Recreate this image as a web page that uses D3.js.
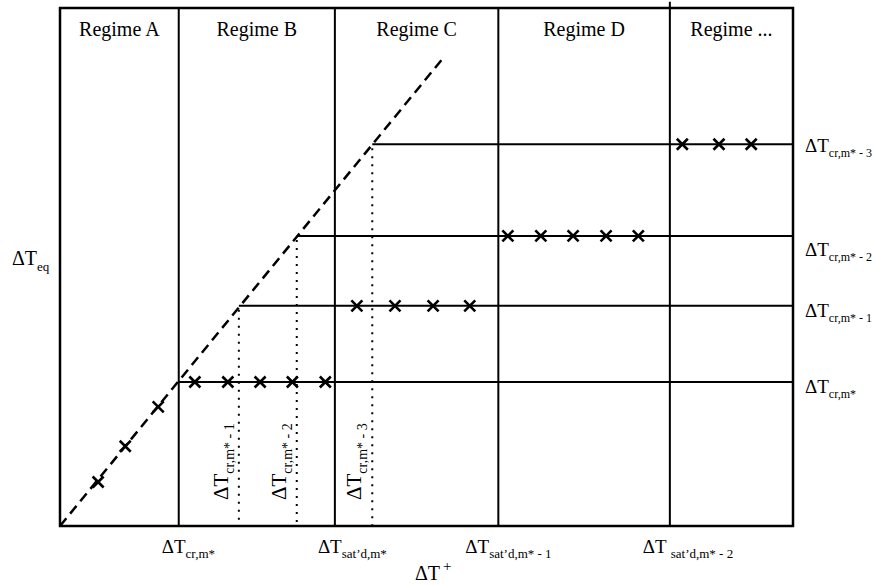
<!DOCTYPE html>
<html>
<head>
<meta charset="utf-8">
<script src="https://cdn.jsdelivr.net/npm/d3@7"></script>
<style>
  body { margin: 0; background: #fff; }
</style>
</head>
<body>
<div id="root"></div>
<script>
// regimes along dT+ (data units 0..100)
const regimes = ["Regime A", "Regime B", "Regime C", "Regime D", "Regime ..."];
const regimeEdges = [0, 16.2, 37.5, 59.8, 83.2, 100];

// critical temperature levels, m*, m*-1, m*-2, m*-3
const levelSubs = ["cr,m*", "cr,m* - 1", "cr,m* - 2", "cr,m* - 3"];
const levels = [27.8, 42.5, 56.0, 73.7];
const satX = [16.2, 24.4, 32.3, 42.6];

// dashed equilibrium line
const diagonal = [[0, 0], [52.3, 90.4]];

// crosses per regime
const crossesA = [[5.2, 8.5], [8.9, 15.4], [13.4, 23.0]];
const crossesB = [18.4, 22.9, 27.3, 31.7, 36.2];
const crossesC = [40.5, 45.7, 50.9, 55.9];
const crossesD = [61.1, 65.6, 70.0, 74.5, 78.9];
const crossesE = [84.9, 89.9, 94.3];

// labels under the x axis
const xTickSubs = ["cr,m*", "sat\u2019d,m*", "sat\u2019d,m* - 1", "sat\u2019d,m* - 2"];
const xTickAt = [16.2, 37.5, 59.8, 83.2];

const FONT = "'Liberation Serif'";

const width = 876, height = 586;
const margin = {top: 8, right: 83, bottom: 60, left: 60};

const svg = d3.select("#root").append("svg")
    .attr("width", width)
    .attr("height", height);

const x = d3.scaleLinear().domain([0, 100]).range([margin.left, width - margin.right]);
const y = d3.scaleLinear().domain([0, 100]).range([height - margin.bottom, margin.top]);

const plot = svg.append("g").attr("class", "plot");

// regime dividers (the one before "Regime ..." pokes above the frame)
plot.selectAll("line.divider")
    .data(regimeEdges.slice(1, -1))
    .enter().append("line")
    .attr("class", "divider")
    .attr("x1", d => x(d)).attr("x2", d => x(d))
    .attr("y1", y(0))
    .attr("y2", (d, i) => i === 3 ? y(101.2) : y(100))
    .attr("stroke", "#000").attr("stroke-width", 2);

// frame
plot.append("rect")
    .attr("x", x(0)).attr("y", y(100))
    .attr("width", x(100) - x(0)).attr("height", y(0) - y(100))
    .attr("fill", "none").attr("stroke", "#000").attr("stroke-width", 2.5);

// level lines
plot.selectAll("line.level")
    .data(levels)
    .enter().append("line")
    .attr("class", "level")
    .attr("x1", (d, i) => x(satX[i])).attr("x2", x(100))
    .attr("y1", d => y(d)).attr("y2", d => y(d))
    .attr("stroke", "#000").attr("stroke-width", 2);

// dotted drops from saturation points
plot.selectAll("line.drop")
    .data(levels.slice(1))
    .enter().append("line")
    .attr("class", "drop")
    .attr("x1", (d, i) => x(satX[i + 1])).attr("x2", (d, i) => x(satX[i + 1]))
    .attr("y1", d => y(d) + 4).attr("y2", y(0))
    .attr("stroke", "#000").attr("stroke-width", 2)
    .attr("stroke-dasharray", "2,6");

// dashed diagonal
plot.append("path")
    .attr("d", d3.line().x(d => x(d[0])).y(d => y(d[1]))(diagonal))
    .attr("fill", "none").attr("stroke", "#000").attr("stroke-width", 2.5)
    .attr("stroke-dasharray", "10,6");

// crosses
const crossPts = crossesA
    .concat(crossesB.map(v => [v, levels[0]]))
    .concat(crossesC.map(v => [v, levels[1]]))
    .concat(crossesD.map(v => [v, levels[2]]))
    .concat(crossesE.map(v => [v, levels[3]]));

const s = 5.5;
plot.selectAll("path.cross")
    .data(crossPts)
    .enter().append("path")
    .attr("class", "cross")
    .attr("transform", d => `translate(${x(d[0])},${y(d[1])})`)
    .attr("d", `M${-s},${-s}L${s},${s}M${-s},${s}L${s},${-s}`)
    .attr("stroke", "#000").attr("stroke-width", 2.6);

// regime titles
svg.selectAll("text.regime")
    .data(regimes)
    .enter().append("text")
    .attr("class", "regime")
    .attr("x", (d, i) => (x(regimeEdges[i]) + x(regimeEdges[i + 1])) / 2)
    .attr("y", 36)
    .attr("text-anchor", "middle")
    .attr("font-family", FONT)
    .attr("font-size", 20)
    .text(d => d);

// delta-T label with a subscript
function deltaLabel(g, sub, size, subSize, subDx) {
    const t = g.append("text")
        .attr("font-family", FONT)
        .attr("font-size", size);
    t.append("tspan").text("\u0394T");
    t.append("tspan")
        .attr("dx", subDx || 0)
        .attr("dy", Math.round(size * 0.28))
        .attr("font-size", subSize)
        .text(sub);
    return t;
}

// right-hand level labels
const rightDy = [11, 11, 20, 8];
levels.forEach((lv, i) => {
    const g = svg.append("g").attr("transform", `translate(805,${y(lv) + rightDy[i]})`);
    deltaLabel(g, levelSubs[i], 19, 12);
});

// y axis title
deltaLabel(svg.append("g").attr("transform", "translate(12,265)"), "eq", 20, 13);

// bottom labels
const xTickDx = [-17, -17, -33, -27];
xTickSubs.forEach((sub, i) => {
    const g = svg.append("g").attr("transform", `translate(${x(xTickAt[i]) + xTickDx[i]},553)`);
    deltaLabel(g, sub, 19, 13, i === 3 ? 4 : 0);
});

// x axis title
const xt = svg.append("text")
    .attr("x", 415).attr("y", 580)
    .attr("font-family", FONT)
    .attr("font-size", 20);
xt.append("tspan").text("\u0394T");
xt.append("tspan").attr("dx", 3).attr("dy", -9).attr("font-size", 15).text("+");

// rotated labels along the dotted drops
levels.slice(1).forEach((lv, i) => {
    const g = svg.append("g")
        .attr("transform", `translate(${x(satX[i + 1]) - 11},500) rotate(-90)`);
    deltaLabel(g, levelSubs[i + 1], 21, 14);
});
</script>
</body>
</html>
